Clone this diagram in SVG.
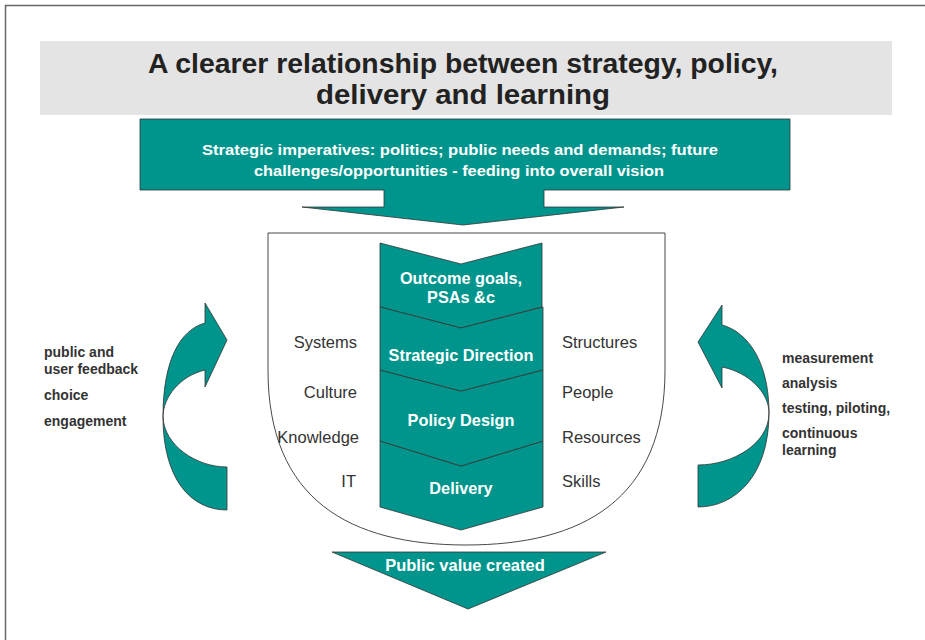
<svg xmlns="http://www.w3.org/2000/svg" width="925" height="640" viewBox="0 0 925 640">
<style>
.teal{fill:#00958C;stroke:#333;stroke-width:0.8;stroke-linejoin:miter}
.wt{fill:#fff;font-family:"Liberation Sans",Arial,sans-serif;font-weight:bold;text-anchor:middle}
.seg{font-size:16.3px}
.side{fill:#333;font-family:"Liberation Sans",Arial,sans-serif;font-size:16.5px}
.lab{fill:#333;font-family:"Liberation Sans",Arial,sans-serif;font-size:14px;font-weight:bold}
</style>
<rect width="925" height="640" fill="#fff"/>
<path d="M5.5,640 V5.5 H925" fill="none" stroke="#666" stroke-width="1.5"/>
<g id="title">
<rect x="40" y="41" width="852" height="74" fill="#E3E4E3"/>
<text x="463" y="73" class="wt" style="fill:#222;font-size:27px" textLength="630" lengthAdjust="spacingAndGlyphs">A clearer relationship between strategy, policy,</text>
<text x="463" y="104" class="wt" style="fill:#222;font-size:27px" textLength="294" lengthAdjust="spacingAndGlyphs">delivery and learning</text>
</g>
<g id="strategic-imperatives">
<path class="teal" d="M140,119 H790 V190 H544 V207 H624 L463,225 L302,207 H384 V190 H140 Z"/>
<text x="460" y="155" class="wt" style="font-size:14.5px" textLength="516" lengthAdjust="spacingAndGlyphs">Strategic imperatives:  politics;  public needs and demands; future</text>
<text x="459" y="176" class="wt" style="font-size:14.5px" textLength="410" lengthAdjust="spacingAndGlyphs">challenges/opportunities - feeding into overall vision</text>
</g>
<g id="shield">
<path d="M268,233 H665 V370 C665,500 582,545 466,545 C350,545 268,500 268,370 Z" fill="#fff" stroke="#333" stroke-width="0.9"/>
</g>
<g id="outcome-goals">
<path class="teal" d="M380,243 L461,264 L542,243 V307 L461,328 L380,307 Z"/>
<text x="461" y="284" class="wt seg">Outcome goals,</text>
<text x="461" y="303" class="wt seg">PSAs &amp;c</text>
</g>
<g id="delivery">
<path class="teal" d="M380,441 L461,466 L543,441 V507 L461,530 L380,507 Z"/>
<text x="461" y="494" class="wt seg">Delivery</text>
</g>
<g id="policy-design">
<path class="teal" d="M380,370 L461,391 L543,370 V441 L461,466 L380,441 Z"/>
<text x="461" y="426" class="wt seg">Policy Design</text>
</g>
<g id="strategic-direction">
<path class="teal" d="M380,307 L461,328 L543,307 V370 L461,391 L380,370 Z"/>
<text x="461" y="361" class="wt seg">Strategic Direction</text>
</g>
<g id="left-factors">
<text x="357" y="348" class="side" text-anchor="end">Systems</text>
<text x="357" y="398" class="side" text-anchor="end">Culture</text>
<text x="359" y="443" class="side" text-anchor="end">Knowledge</text>
<text x="356" y="487" class="side" text-anchor="end">IT</text>
</g>
<g id="right-factors">
<text x="562" y="348" class="side">Structures</text>
<text x="562" y="398" class="side">People</text>
<text x="562" y="443" class="side">Resources</text>
<text x="562" y="487" class="side">Skills</text>
</g>
<g id="public-value">
<path class="teal" d="M332,552 H606 L468,609 Z"/>
<text x="465" y="571" class="wt" style="font-size:16.5px">Public value created</text>
</g>
<g id="feedback-arrow">
<path class="teal" d="M227,510 V467 C196,467 164,445 163,417 C163,397 180,376 205,370 L205,387 L227,340 L205,303 L205,323 C180,330 163,360 163,417 C163,478 190,510 227,510 Z"/>
</g>
<g id="learning-arrow">
<path class="teal" d="M698,507 V465 C732,465 769,444 769,413 C769,392 748,372 722,367 L722,388 L698,342 L722,305 L722,325 C748,332 769,362 769,413 C769,476 735,507 698,507 Z"/>
</g>
<g id="left-labels">
<text x="44" y="357" class="lab">public and</text>
<text x="44" y="374" class="lab">user feedback</text>
<text x="44" y="400" class="lab">choice</text>
<text x="44" y="426" class="lab">engagement</text>
</g>
<g id="right-labels">
<text x="782" y="363" class="lab">measurement</text>
<text x="782" y="388" class="lab">analysis</text>
<text x="782" y="413" class="lab">testing, piloting,</text>
<text x="782" y="438" class="lab">continuous</text>
<text x="782" y="455" class="lab">learning</text>
</g>
</svg>
